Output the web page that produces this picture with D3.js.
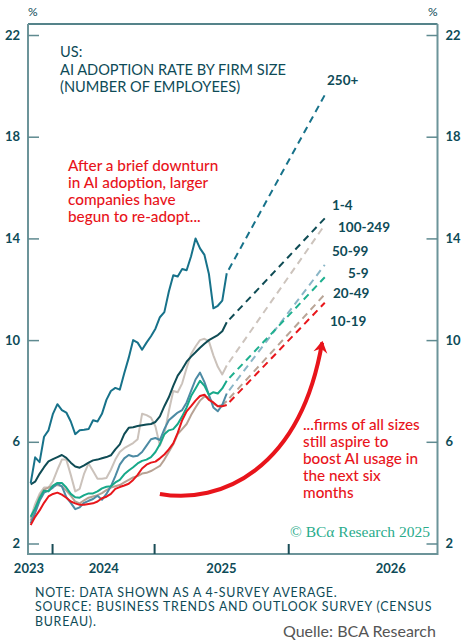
<!DOCTYPE html>
<html>
<head>
<meta charset="utf-8">
<script src="https://cdn.jsdelivr.net/npm/d3@7"></script>
<style>
  body { margin: 0; background: #fff; }
  svg text { font-family: Lato, "Open Sans", sans-serif; }
</style>
</head>
<body>
<div id="chart"></div>
<script>
const width = 465
const height = 642
const plot = {left: 28, right: 437.5, top: 24, bottom: 554}

// Data (4-survey average, % of firms), one value per survey period
const seriesNames = ["250+", "1-4", "100-249", "50-99", "5-9", "20-49", "10-19"]
const s250 = [4.37, 5.39, 5.2, 6.2, 6.45, 7.1, 7.48, 7.25, 7.15, 6.8, 6.3, 6.45, 6.47, 6.5, 6.85, 6.8, 7.1, 7.65, 8.0, 8.12, 8.05, 8.7, 9.3, 10.0, 9.9, 9.62, 9.9, 10.15, 10.45, 10.9, 11.1, 11.9, 12.55, 12.5, 12.8, 12.75, 13.3, 14.0, 13.61, 13.35, 12.6, 11.25, 11.35, 11.55, 12.63]
const s1to4 = [4.33, 4.43, 4.74, 5.0, 5.23, 5.32, 5.4, 5.48, 5.37, 5.18, 5.03, 4.98, 5.07, 5.18, 5.27, 5.3, 5.35, 5.4, 5.47, 5.7, 5.9, 6.3, 6.55, 6.57, 6.62, 6.65, 6.68, 6.7, 6.78, 7.0, 7.4, 7.75, 8.2, 8.6, 8.85, 9.15, 9.35, 9.52, 9.7, 9.86, 10.0, 10.1, 10.2, 10.35, 10.7]
const s100to249 = [3.0, 3.55, 3.95, 4.2, 4.2, 4.45, 4.9, 5.3, 5.3, 4.7, 4.05, 4.15, 4.75, 5.15, 4.85, 4.55, 4.55, 4.58, 4.9, 5.3, 5.6, 5.75, 5.85, 5.95, 6.1, 7.1, 7.05, 6.95, 6.6, 5.85, 6.3, 7.2, 8.0, 7.95, 8.3, 8.9, 9.45, 9.75, 10.0, 10.05, 9.95, 9.4, 8.95, 8.65, 9.0]
const s50to99 = [2.8, 3.2, 3.68, 4.0, 4.08, 4.2, 4.35, 4.25, 3.82, 3.6, 3.35, 3.42, 3.6, 3.68, 3.75, 3.88, 3.72, 3.95, 4.25, 4.65, 5.1, 5.35, 5.48, 5.42, 5.45, 5.6, 5.85, 6.1, 6.15, 6.07, 6.5, 6.85, 7.0, 7.15, 7.25, 7.55, 8.0, 8.45, 8.72, 8.35, 7.85, 7.35, 7.2, 7.45, 7.9]
const s5to9 = [3.05, 3.38, 3.78, 4.08, 4.05, 4.28, 4.38, 4.38, 4.2, 3.95, 3.82, 3.8, 3.9, 3.97, 3.97, 4.05, 4.17, 4.23, 4.25, 4.4, 4.5, 4.72, 4.87, 5.0, 5.15, 5.25, 5.3, 5.4, 5.6, 5.9, 6.3, 6.45, 6.5, 6.7, 7.0, 7.35, 7.8, 8.1, 8.4, 8.2, 7.85, 7.95, 7.9, 8.1, 8.4]
const s20to49 = [2.9, 3.35, 3.85, 4.12, 4.2, 4.25, 4.3, 4.25, 4.08, 3.88, 3.65, 3.58, 3.7, 3.8, 3.85, 3.9, 3.98, 4.1, 4.2, 4.25, 4.3, 4.4, 4.5, 4.6, 4.65, 4.75, 4.78, 4.85, 4.95, 5.05, 5.3, 5.6, 5.9, 6.3, 6.5, 6.7, 7.05, 7.35, 7.62, 7.78, 7.75, 7.5, 7.4, 7.45, 7.6]
const s10to19 = [2.73, 3.05, 3.3, 3.6, 3.85, 3.95, 4.0, 3.92, 3.8, 3.65, 3.58, 3.52, 3.52, 3.55, 3.58, 3.65, 3.78, 3.84, 3.95, 4.15, 4.22, 4.28, 4.35, 4.5, 4.7, 4.95, 5.1, 5.18, 5.22, 5.35, 5.5, 5.7, 5.94, 6.35, 6.85, 7.2, 7.4, 7.62, 7.8, 7.85, 7.65, 7.55, 7.4, 7.4, 7.45]
// expected value six months ahead
const projected = [19.64, 14.79, 14.53, 12.96, 12.47, 11.80, 11.47]
const projEnd = 66

// axes
const yTicks = [2, 6, 10, 14, 18, 22]
const xTicks = [4.8, 27.7, 57.8]
const yearLabels = ["2023", "2024", "2025", "2026"]
const yearPos = [-0.5, 16.3, 42.7, 80.7]

const values = [s250, s1to4, s100to249, s50to99, s5to9, s20to49, s10to19]

// styles
const colors = {
  "250+": ["#17728a", "#17728a"],
  "1-4": ["#0f4c55", "#0f4c55"],
  "100-249": ["#cbc2bb", "#cdc4bd"],
  "50-99": ["#4d8ba4", "#8ab6c7"],
  "5-9": ["#17a98a", "#1fb08f"],
  "20-49": ["#b7a294", "#b9a597"],
  "10-19": ["#e8161b", "#e8161b"]
}
const labelPos = {
  "250+": [327, 85], "1-4": [332, 210], "100-249": [338, 232], "50-99": [332, 256],
  "5-9": [348, 278], "20-49": [333, 298], "10-19": [330, 326]
}
const drawOrder = ["100-249", "20-49", "50-99", "5-9", "1-4", "250+", "10-19"]
const ink = "#0e4b57"
const red = "#e8141b"

const series = seriesNames.map((name, i) => ({
  name,
  points: values[i].map((v, j) => ({i: j, v})),
  proj: projected[i]
}))

const svg = d3.select("#chart")
  .append("svg")
  .attr("width", width)
  .attr("height", height)

const x = d3.scaleLinear().domain([-0.6, 91.3]).range([plot.left, plot.right])
const y = d3.scaleLinear().domain([1.587, 22.433]).range([plot.bottom, plot.top])

// frame
svg.append("line").attr("x1", plot.left).attr("x2", plot.right).attr("y1", plot.top).attr("y2", plot.top)
  .attr("stroke", "#1d5a63").attr("stroke-width", 1.5)
svg.append("path")
  .attr("d", `M${plot.left},${plot.top}V${plot.bottom}H${plot.right}V${plot.top}`)
  .attr("fill", "none").attr("stroke", "#6c9499").attr("stroke-width", 2)

// y axes (ticks pointing inward)
const yLeft = svg.append("g").attr("transform", `translate(${plot.left},0)`)
  .call(d3.axisLeft(y).tickValues(yTicks).tickSizeInner(-11).tickSizeOuter(0).tickPadding(8))
const yRight = svg.append("g").attr("transform", `translate(${plot.right},0)`)
  .call(d3.axisRight(y).tickValues(yTicks).tickSizeInner(-11).tickSizeOuter(0).tickPadding(8))
for (const g of [yLeft, yRight]) {
  g.select(".domain").remove()
  g.selectAll(".tick line").attr("stroke", "#5f8a90").attr("stroke-width", 1.5)
  g.selectAll(".tick text").attr("fill", ink).attr("font-size", 13).attr("font-weight", 700)
    .attr("font-family", "Lato, sans-serif")
}

// x axis ticks
const xAxisG = svg.append("g").attr("transform", `translate(0,${plot.bottom})`)
  .call(d3.axisBottom(x).tickValues(xTicks).tickSizeInner(-10).tickSizeOuter(0).tickFormat(""))
xAxisG.select(".domain").remove()
xAxisG.selectAll(".tick line").attr("stroke", "#1a4d57").attr("stroke-width", 2)

const xLabelG = svg.append("g").attr("transform", `translate(0,${plot.bottom})`)
  .call(d3.axisBottom(x).tickValues(yearPos).tickSize(0).tickPadding(10)
    .tickFormat((d, i) => yearLabels[i]))
xLabelG.select(".domain").remove()
xLabelG.selectAll(".tick text").attr("fill", ink).attr("font-size", 13).attr("font-weight", 700)
  .attr("font-family", "Lato, sans-serif")

// % units
svg.append("text").attr("x", plot.left).attr("y", 16).attr("fill", ink).attr("font-size", 12).text("%")
svg.append("text").attr("x", plot.right).attr("y", 16).attr("text-anchor", "end")
  .attr("fill", ink).attr("font-size", 12).text("%")

// lines
const line = d3.line().x(d => x(d.i)).y(d => y(d.v))
const lineGroup = svg.append("g")
drawOrder.forEach(name => {
  const s = series.find(d => d.name === name)
  const last = s.points[s.points.length - 1]
  lineGroup.append("path")
    .datum([last, {i: projEnd, v: s.proj}])
    .attr("fill", "none")
    .attr("stroke", colors[name][1])
    .attr("stroke-width", 2)
    .attr("stroke-dasharray", "7,5")
    .attr("stroke-dashoffset", -4)
    .attr("d", line)
})
drawOrder.forEach(name => {
  const s = series.find(d => d.name === name)
  lineGroup.append("path")
    .datum(s.points)
    .attr("fill", "none")
    .attr("stroke", colors[name][0])
    .attr("stroke-width", 2)
    .attr("stroke-linejoin", "round")
    .attr("d", line)
})

// series labels
svg.append("g").selectAll("text")
  .data(seriesNames)
  .join("text")
  .attr("x", d => labelPos[d][0])
  .attr("y", d => labelPos[d][1])
  .attr("fill", ink)
  .attr("font-size", 13.5)
  .attr("font-weight", 700)
  .text(d => d)

// title
const title = svg.append("text").attr("fill", ink).attr("font-size", 14.6)
;["US:", "AI ADOPTION RATE BY FIRM SIZE", "(NUMBER OF EMPLOYEES)"].forEach((t, i) => {
  title.append("tspan").attr("x", 60).attr("y", 57 + i * 17.5).text(t)
})

// annotations
const note1 = svg.append("text").attr("fill", red).attr("font-size", 15.3).attr("font-weight", 500)
;["After a brief downturn", "in AI adoption, larger", "companies have", "begun to re-adopt..."].forEach((t, i) => {
  note1.append("tspan").attr("x", 68).attr("y", 171 + i * 17).text(t)
})
const note2 = svg.append("text").attr("fill", red).attr("font-size", 15.3).attr("font-weight", 500)
;["...firms of all sizes", "still aspire to", "boost AI usage in", "the next six", "months"].forEach((t, i) => {
  note2.append("tspan").attr("x", 303).attr("y", 430 + i * 17).text(t)
})

// arrow (in data units)
const arrow = [[29.0, 3.95], [42.5, 3.52], [60.5, 4.89], [65.4, 9.9]]
svg.append("defs").append("marker")
  .attr("id", "head")
  .attr("viewBox", "-12 -8 14 16")
  .attr("markerWidth", 14).attr("markerHeight", 16)
  .attr("markerUnits", "userSpaceOnUse")
  .attr("refX", 0).attr("refY", 0)
  .attr("orient", "auto")
  .append("path")
  .attr("d", "M2,0 L-10,-7 L-6,0 L-10,7 Z")
  .attr("fill", red)
svg.append("path")
  .attr("d", `M${x(arrow[0][0])},${y(arrow[0][1])} C${x(arrow[1][0])},${y(arrow[1][1])} ${x(arrow[2][0])},${y(arrow[2][1])} ${x(arrow[3][0])},${y(arrow[3][1])}`)
  .attr("fill", "none")
  .attr("stroke", red)
  .attr("stroke-width", 4)
  .attr("marker-end", "url(#head)")

// watermark
svg.append("text").attr("x", 290).attr("y", 537)
  .style("font-family", "'Liberation Serif', 'DejaVu Serif', serif")
  .attr("font-size", 15.5).attr("fill", "#2aac8c")
  .text("© BCα Research 2025")

// footnote
const foot = svg.append("text").attr("fill", ink).attr("font-size", 12.4).attr("letter-spacing", 0.75)
;["NOTE: DATA SHOWN AS A 4-SURVEY AVERAGE.", "SOURCE: BUSINESS TRENDS AND OUTLOOK SURVEY (CENSUS", "BUREAU)."].forEach((t, i) => {
  foot.append("tspan").attr("x", 35).attr("y", 596.5 + i * 14.5).text(t)
})

svg.append("text").attr("x", 283).attr("y", 637)
  .attr("fill", "#555").attr("font-size", 16)
  .text("Quelle: BCA Research")
</script>
</body>
</html>
